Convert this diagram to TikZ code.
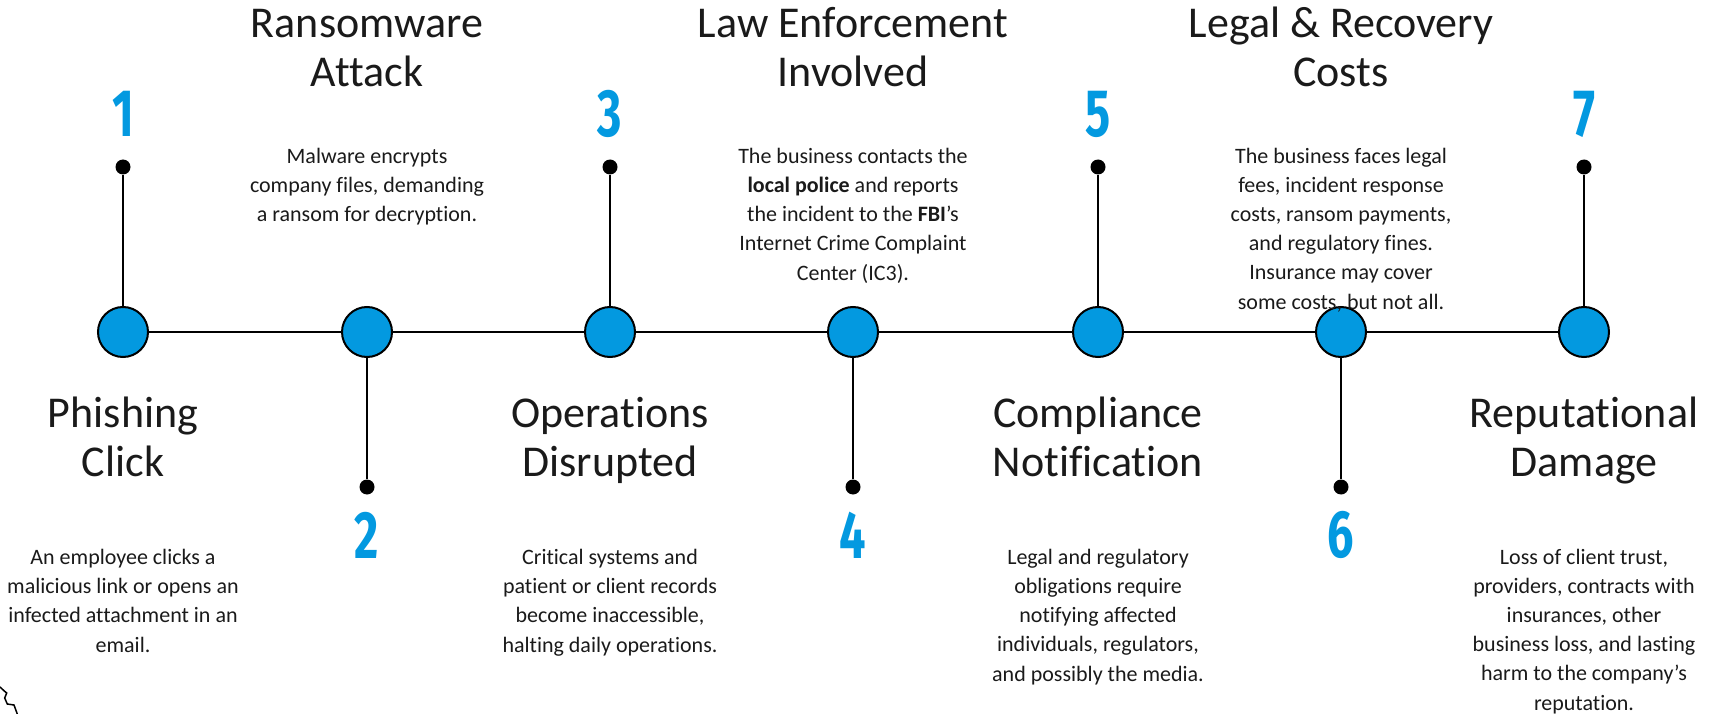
\documentclass[tikz,border=0pt]{standalone}
\usepackage{fontspec}
\setmainfont{Carlito}[Ligatures=NoCommon]
\newfontfamily\numfont{Fira Sans}
\usepackage{xcolor}
\usepackage{tikz}

\definecolor{tlblue}{HTML}{0399E0}
\definecolor{tlink}{HTML}{1A1A1A}

\tikzset{
  event/.style={circle, draw=black, line width=2pt, fill=tlblue, minimum size=50pt, inner sep=0pt},
  pin/.style={circle, fill=black, minimum size=15pt, inner sep=0pt},
  stepnum/.style={text=tlblue, inner sep=0pt, font=\numfont\bfseries\fontsize{67}{67}\selectfont},
  title/.style={align=center, anchor=base, inner sep=0pt, text=tlink, font=\fontsize{44}{49}\selectfont},
  desc/.style={align=center, anchor=base, inner sep=0pt, text=tlink, font=\fontsize{22}{29.2}\selectfont}
}

\begin{document}
\begin{tikzpicture}[x=1pt,y=-1pt]
\useasboundingbox (0,0) rectangle (1711,714);

% Events on the line
\node[event] (c1) at (123,332) {};
\node[event] (c2) at (367,332) {};
\node[event] (c3) at (610,332) {};
\node[event] (c4) at (853,332) {};
\node[event] (c5) at (1098,332) {};
\node[event] (c6) at (1341,332) {};
\node[event] (c7) at (1584,332) {};

% Main line
\draw[line width=2pt] (c1) -- (c2);
\draw[line width=2pt] (c2) -- (c3);
\draw[line width=2pt] (c3) -- (c4);
\draw[line width=2pt] (c4) -- (c5);
\draw[line width=2pt] (c5) -- (c6);
\draw[line width=2pt] (c6) -- (c7);

% Pins (odd up, even down)
\node[pin] (d1) at (123,167) {};
\node[pin] (d2) at (367,487) {};
\node[pin] (d3) at (610,167) {};
\node[pin] (d4) at (853,487) {};
\node[pin] (d5) at (1098,167) {};
\node[pin] (d6) at (1341,487) {};
\node[pin] (d7) at (1584,167) {};

\draw[line width=2pt] (c1) -- (d1);
\draw[line width=2pt] (c2) -- (d2);
\draw[line width=2pt] (c3) -- (d3);
\draw[line width=2pt] (c4) -- (d4);
\draw[line width=2pt] (c5) -- (d5);
\draw[line width=2pt] (c6) -- (d6);
\draw[line width=2pt] (c7) -- (d7);

% Step numbers
\node[stepnum] (n1) at (123,114) {\scalebox{0.7}[1]{1}};
\node[stepnum] (n2) at (367,535) {\scalebox{0.7}[1]{2}};
\node[stepnum] (n3) at (610,114) {\scalebox{0.7}[1]{3}};
\node[stepnum] (n4) at (853,535) {\scalebox{0.7}[1]{4}};
\node[stepnum] (n5) at (1098,114) {\scalebox{0.7}[1]{5}};
\node[stepnum] (n6) at (1341,535) {\scalebox{0.7}[1]{6}};
\node[stepnum] (n7) at (1584,114) {\scalebox{0.7}[1]{7}};

% Titles (anchored on the last line)
\node[title] (t1) at (123,476) {Phishing\\Click};
\node[title] (t2) at (367,87) {Ransomware\\Attack};
\node[title] (t3) at (610,476) {Operations\\Disrupted};
\node[title] (t4) at (853,87) {Law Enforcement\\Involved};
\node[title] (t5) at (1098,476) {Compliance\\Notification};
\node[title] (t6) at (1341,87) {Legal \& Recovery\\Costs};
\node[title] (t7) at (1584,476) {Reputational\\Damage};

% Descriptions (anchored on the last line)
\node[desc] (p1) at (123,652) {An employee clicks a\\malicious link or opens an\\infected attachment in an\\email.};
\node[desc] (p2) at (367,222) {Malware encrypts\\company files, demanding\\a ransom for decryption.};
\node[desc] (p3) at (610,652) {Critical systems and\\patient or client records\\become inaccessible,\\halting daily operations.};
\node[desc] (p4) at (853,280) {The business contacts the\\\textbf{local police} and reports\\the incident to the \textbf{FBI}’s\\Internet Crime Complaint\\Center (IC3).};
\node[desc] (p5) at (1098,681) {Legal and regulatory\\obligations require\\notifying affected\\individuals, regulators,\\and possibly the media.};
\node[desc] (p6) at (1341,309) {The business faces legal\\fees, incident response\\costs, ransom payments,\\and regulatory fines.\\Insurance may cover\\some costs, but not all.};
\node[desc] (p7) at (1584,710) {Loss of client trust,\\providers, contracts with\\insurances, other\\business loss, and lasting\\harm to the company’s\\reputation.};

% Stray stroke, bottom left
\draw[line width=1.5pt] (0,687) -- (4.3,691) -- (6.7,693) -- (4.7,698) -- (7.3,704) -- (14,705) -- (17.3,714);

\end{tikzpicture}
\end{document}
